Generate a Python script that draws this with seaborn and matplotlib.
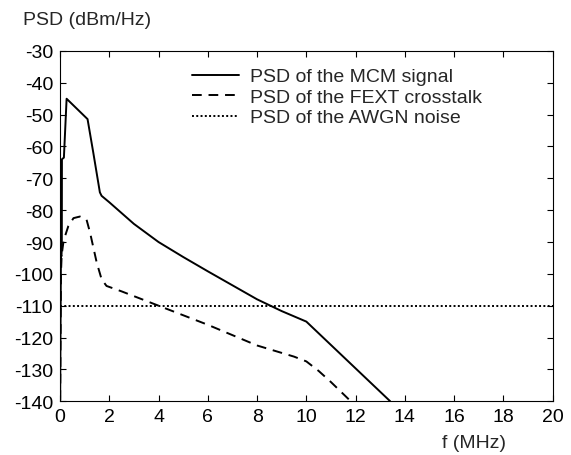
import numpy as np
import pandas as pd
import seaborn as sns
import matplotlib.pyplot as plt

# --- data ---
f_mcm = [0.0, 0.04, 0.06, 0.075, 0.08, 0.16, 0.27, 1.12, 1.35, 1.62, 1.69, 2.0, 3.0,
         4.0, 5.0, 6.0, 7.0, 8.0, 9.0, 10.0, 13.4]
psd_mcm = [-150, -94, -94.5, -92, -64, -63.5, -45, -51.4, -61.8, -74.4, -75.5, -77.5, -84.3,
           -90, -94.7, -99.2, -103.6, -108, -111.7, -115, -140]

f_fext = [0.0, 0.04, 0.07, 0.15, 0.34, 0.55, 0.81, 1.08, 1.22, 1.49, 1.69, 1.89, 2.5,
          4.0, 6.0, 8.0, 9.5, 10.0, 10.5, 11.0, 11.8]
psd_fext = [-150, -100, -94, -89.5, -85, -82.5, -82, -83, -87, -96.4, -101.7, -103.8, -105.5,
            -110, -116, -122.5, -126, -127.5, -130.5, -134, -140]

f_awgn = [0.0, 20.0]
psd_awgn = [-110, -110]

labels = ["PSD of the MCM signal", "PSD of the FEXT crosstalk", "PSD of the AWGN noise"]
yticks = np.arange(-140, -29, 10)
xticks = np.arange(0, 21, 2)

#%% --- plot ---
sns.set_style("ticks")
plt.rcParams['font.family'] = ['Liberation Sans', 'DejaVu Sans']
plt.rcParams['font.size'] = 14
plt.rcParams['axes.unicode_minus'] = False

fig = plt.figure(figsize=(5.71, 4.56), dpi=100)
ax = fig.add_axes([0.105, 0.118, 0.863, 0.768])

sns.lineplot(x=f_mcm, y=psd_mcm, ax=ax, estimator=None, sort=False, color="black",
             lw=1.4, label=labels[0])
sns.lineplot(x=f_fext, y=psd_fext, ax=ax, estimator=None, sort=False, color="black",
             lw=1.4, linestyle=(0, (5, 3.5)), label=labels[1])
sns.lineplot(x=f_awgn, y=psd_awgn, ax=ax, estimator=None, sort=False, color="black",
             lw=1.4, linestyle=(0, (1, 1.2)), label=labels[2])

ax.set(xlim=(0, 20), ylim=(-140, -30), xlabel="", ylabel="")
ax.set_xticks(xticks)
ax.set_yticks(yticks)
ax.tick_params(direction="in", top=True, right=True, length=4, width=0.8,
               labelsize=14, colors="black", pad=5)
for s in ax.spines.values():
    s.set_linewidth(0.8)
    s.set_color("black")

ax.legend(loc="upper left", bbox_to_anchor=(0.248, 0.98), frameon=False, borderpad=0,
          handlelength=2.4, handletextpad=0.6, labelspacing=0.15, fontsize=14)

fig.text(0.04, 0.956, "PSD (dBm/Hz)", fontsize=14, ha="left", va="center")
fig.text(0.83, 0.028, "f (MHz)", fontsize=14, ha="center", va="center")

fig.savefig("out.png", dpi=100)
